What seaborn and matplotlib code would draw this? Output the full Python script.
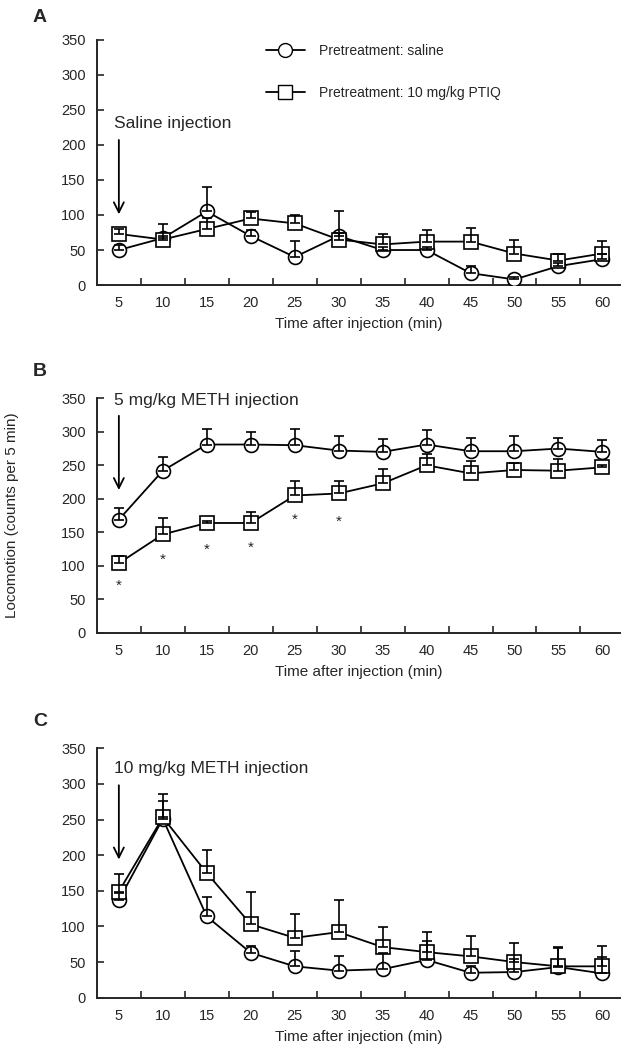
"""
Locomotion after saline / METH injection, pretreatment saline vs PTIQ
Three stacked panels (A, B, C) with upper-only SEM bars
"""

import numpy as np
import pandas as pd
import matplotlib
matplotlib.use("Agg")
import matplotlib.pyplot as plt
import seaborn as sns

# time bins (min)
times = [5, 10, 15, 20, 25, 30, 35, 40, 45, 50, 55, 60]

# Panel A - saline injection
a_saline = [50, 67, 105, 70, 40, 70, 50, 50, 17, 8, 27, 37]
a_saline_err = [7, 20, 35, 8, 23, 35, 5, 5, 10, 3, 5, 8]
a_ptiq = [73, 65, 80, 95, 88, 65, 58, 62, 62, 45, 35, 45]
a_ptiq_err = [7, 5, 15, 9, 12, 10, 15, 16, 20, 20, 10, 18]

# Panel B - 5 mg/kg METH
b_saline = [169, 242, 281, 281, 280, 272, 270, 281, 271, 271, 275, 270]
b_saline_err = [18, 21, 23, 18, 24, 21, 19, 22, 20, 23, 16, 17]
b_ptiq = [104, 147, 164, 164, 205, 208, 223, 250, 238, 243, 242, 247]
b_ptiq_err = [11, 25, 3, 16, 21, 19, 22, 17, 18, 11, 18, 4]
b_star_y = [70, 109, 124, 127, 169, 166]

# Panel C - 10 mg/kg METH
c_saline = [137, 251, 114, 63, 44, 38, 40, 53, 35, 36, 43, 34]
c_saline_err = [10, 25, 27, 10, 21, 20, 23, 27, 10, 19, 27, 23]
c_ptiq = [149, 253, 175, 103, 84, 92, 71, 64, 58, 50, 44, 44]
c_ptiq_err = [25, 33, 32, 45, 34, 45, 28, 28, 29, 27, 27, 28]

legend_labels = ["Pretreatment: saline", "Pretreatment: 10 mg/kg PTIQ"]
panel_letters = ["A", "B", "C"]
annotations = ["Saline injection", "5 mg/kg METH injection", "10 mg/kg METH injection"]


def draw_panel(ax, saline, saline_err, ptiq, ptiq_err, note, note_y, arrow_top, arrow_tip):
    pos = np.arange(len(times))
    df = pd.DataFrame({
        "pos": np.concatenate([pos, pos]),
        "val": saline + ptiq,
        "group": [legend_labels[0]] * len(times) + [legend_labels[1]] * len(times),
    })
    sns.lineplot(data=df, x="pos", y="val", style="group", markers=["o", "s"],
                 dashes=False, color="black", lw=1.3, markersize=10,
                 markerfacecolor="white", markeredgecolor="black", markeredgewidth=1.2,
                 ax=ax, legend=False, zorder=3)
    for vals, err in [(saline, saline_err), (ptiq, ptiq_err)]:
        ax.errorbar(pos, vals, yerr=[np.zeros(len(err)), err], fmt="none",
                    ecolor="black", elinewidth=1.2, capsize=3.5, capthick=1.2, zorder=4)

    ax.set_xlim(-0.5, 11.4)
    ax.set_ylim(0, 350)
    ax.set_yticks(range(0, 351, 50))
    ax.set_xticks(pos)
    ax.set_xticklabels([str(t) for t in times])
    ax.set_xticks(np.arange(0.5, 11.5, 1), minor=True)
    ax.tick_params(axis="x", which="major", length=0, pad=8, labelsize=10.5)
    ax.tick_params(axis="x", which="minor", length=5, width=1.2, direction="in")
    ax.tick_params(axis="y", length=5, width=1.2, direction="in", labelsize=10.5, pad=8)
    ax.set_xlabel("Time after injection (min)", fontsize=11, labelpad=5)
    ax.set_ylabel("")
    for s in ["left", "bottom"]:
        ax.spines[s].set_linewidth(1.4)
    sns.despine(ax=ax)

    ax.text(-0.11, note_y, note, fontsize=12.5, ha="left", va="center")
    ax.annotate("", xy=(0, arrow_tip), xytext=(0, arrow_top),
                arrowprops=dict(arrowstyle="->", color="black", lw=1.3,
                                mutation_scale=18))


sns.set_style("ticks")
plt.rcParams["font.family"] = ["Liberation Sans", "DejaVu Sans"]

fig = plt.figure(figsize=(6.25, 10.48), dpi=100)
ax_a = fig.add_axes([0.155, 0.728, 0.837, 0.234])
ax_b = fig.add_axes([0.155, 0.396, 0.837, 0.224])
ax_c = fig.add_axes([0.155, 0.048, 0.837, 0.238])

draw_panel(ax_a, a_saline, a_saline_err, a_ptiq, a_ptiq_err, annotations[0], 231, 211, 97)
draw_panel(ax_b, b_saline, b_saline_err, b_ptiq, b_ptiq_err, annotations[1], 347, 328, 209)
draw_panel(ax_c, c_saline, c_saline_err, c_ptiq, c_ptiq_err, annotations[2], 322, 302, 190)

# significance stars in panel B
for i, y in enumerate(b_star_y):
    ax_b.text(i, y, "*", fontsize=11, ha="center", va="center")

# legend in panel A
handles = [
    plt.Line2D([], [], color="black", lw=1.3, marker="o", markersize=10,
               markerfacecolor="white", markeredgecolor="black"),
    plt.Line2D([], [], color="black", lw=1.3, marker="s", markersize=10,
               markerfacecolor="white", markeredgecolor="black"),
]
ax_a.legend(handles, legend_labels, loc="upper left", bbox_to_anchor=(0.31, 1.01),
            frameon=False, fontsize=10, handlelength=2.8, labelspacing=2.0,
            handletextpad=1.0, borderpad=0)

for letter, y in zip(panel_letters, [17, 372, 722]):
    fig.text(40 / 625, 1 - y / 1048, letter, fontsize=14, fontweight="bold",
             ha="center", va="center")

fig.text(12 / 625, 1 - 515 / 1048, "Locomotion (counts per 5 min)", rotation=90,
         fontsize=11, ha="center", va="center")

fig.savefig("out.png", dpi=100)
